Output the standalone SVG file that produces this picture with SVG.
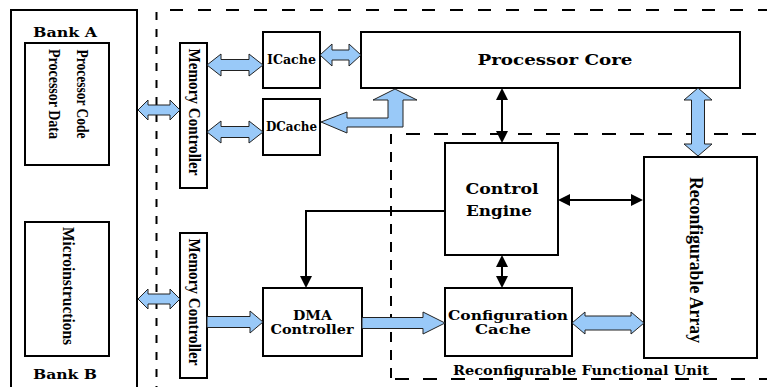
<svg xmlns="http://www.w3.org/2000/svg" width="767" height="387" viewBox="0 0 767 387">
<style>
.box{fill:#fff;stroke:#000;stroke-width:2}
.blk{fill:#99c9f8;stroke:#222;stroke-width:1}
.ln{fill:none;stroke:#000;stroke-width:2}
.dash{fill:none;stroke:#000;stroke-width:2}
.bt{font-family:"DejaVu Serif","Liberation Serif",serif;font-weight:bold;fill:#000;text-anchor:middle}
.rt{font-family:"Liberation Serif","Times New Roman",serif;font-weight:bold;fill:#000;text-anchor:middle}
</style>
<defs>
<marker id="ah" viewBox="0 0 12 12" refX="10" refY="6" markerWidth="12" markerHeight="12" markerUnits="userSpaceOnUse" orient="auto-start-reverse">
<path d="M0,0 L12,6 L0,12 Z" fill="#000"/>
</marker>
</defs>
<rect width="767" height="387" fill="#fff"/>

<g id="boundaries">
<path class="dash" d="M170,10 H767" stroke-dasharray="13 15"/>
<path class="dash" d="M156.5,12 V387" stroke-dasharray="8 9"/>
<path class="dash" d="M406,134 H767" stroke-dasharray="14 14"/>
<path class="dash" d="M391,134 V380" stroke-dasharray="10 8"/>
<path class="dash" d="M395,379 H767" stroke-dasharray="14 14"/>
<text class="bt" x="581" y="375" font-size="13" textLength="256" lengthAdjust="spacingAndGlyphs">Reconfigurable Functional Unit</text>
</g>

<g id="bank">
<path class="ln" d="M11,395 V10 H137 V395"/>
<text class="bt" x="65" y="37" font-size="13" textLength="64" lengthAdjust="spacingAndGlyphs">Bank A</text>
<text class="bt" x="65" y="379" font-size="13" textLength="64" lengthAdjust="spacingAndGlyphs">Bank B</text>
</g>

<g id="bankA-mem">
<rect class="box" x="25" y="43" width="84" height="122"/>
<g transform="translate(77,94) rotate(90)">
<text class="rt" x="0" y="0" font-size="16" textLength="89" lengthAdjust="spacingAndGlyphs">Processor Code</text>
<text class="rt" x="0" y="28" font-size="16" textLength="90" lengthAdjust="spacingAndGlyphs">Processor Data</text>
</g>
</g>

<g id="bankB-mem">
<rect class="box" x="25" y="222" width="84" height="134"/>
<text class="rt" font-size="17" transform="translate(63,286) rotate(90)" textLength="118" lengthAdjust="spacingAndGlyphs">Microinstructions</text>
</g>

<g id="memctrl1">
<rect class="box" x="180" y="43" width="27" height="145"/>
<text class="rt" font-size="17" transform="translate(188.5,112) rotate(90)" textLength="127" lengthAdjust="spacingAndGlyphs">Memory Controller</text>
</g>

<g id="memctrl2">
<rect class="box" x="180" y="233" width="27" height="145"/>
<text class="rt" font-size="17" transform="translate(188.5,302) rotate(90)" textLength="127" lengthAdjust="spacingAndGlyphs">Memory Controller</text>
</g>

<g id="icache">
<rect class="box" x="263" y="32" width="57" height="56"/>
<text class="bt" x="291.5" y="64" font-size="12" textLength="49" lengthAdjust="spacingAndGlyphs">ICache</text>
</g>

<g id="dcache">
<rect class="box" x="263" y="99" width="57" height="56"/>
<text class="bt" x="291.5" y="131" font-size="12" textLength="51" lengthAdjust="spacingAndGlyphs">DCache</text>
</g>

<g id="core">
<rect class="box" x="361" y="32" width="379" height="56"/>
<text class="bt" x="555" y="65" font-size="15" textLength="155" lengthAdjust="spacingAndGlyphs">Processor Core</text>
</g>

<g id="control">
<rect class="box" x="445" y="143" width="113" height="112"/>
<text class="bt" x="502" y="194" font-size="15" textLength="73" lengthAdjust="spacingAndGlyphs">Control</text>
<text class="bt" x="499" y="216" font-size="15" textLength="66" lengthAdjust="spacingAndGlyphs">Engine</text>
</g>

<g id="dma">
<rect class="box" x="263" y="288" width="99" height="68"/>
<text class="bt" x="312.5" y="320" font-size="12" textLength="39" lengthAdjust="spacingAndGlyphs">DMA</text>
<text class="bt" x="312" y="334" font-size="13" textLength="83" lengthAdjust="spacingAndGlyphs">Controller</text>
</g>

<g id="config">
<rect class="box" x="445" y="288" width="127" height="68"/>
<text class="bt" x="508" y="320" font-size="13" textLength="120" lengthAdjust="spacingAndGlyphs">Configuration</text>
<text class="bt" x="503" y="334" font-size="13" textLength="56" lengthAdjust="spacingAndGlyphs">Cache</text>
</g>

<g id="array">
<rect class="box" x="644" y="157" width="113" height="201"/>
<text class="rt" font-size="19" transform="translate(690,260) rotate(90)" textLength="166" lengthAdjust="spacingAndGlyphs">Reconfigurable Array</text>
</g>

<g id="connectors">
<polygon class="blk" points="138,110 148,100 148,105 170,105 170,100 180,110 170,120 170,115 148,115 148,120"/>
<polygon class="blk" points="138,299 148,289 148,294 170,294 170,289 180,299 170,309 170,304 148,304 148,309"/>
<polygon class="blk" points="207,65 221,54 221,59.5 249,59.5 249,54 263,65 249,76 249,70.5 221,70.5 221,76"/>
<polygon class="blk" points="207,132 221,121 221,126.5 249,126.5 249,121 263,132 249,143 249,137.5 221,137.5 221,143"/>
<polygon class="blk" points="320,55 332,44 332,50 349,50 349,44 361,55 349,66 349,60 332,60 332,66"/>
<polygon class="blk" points="207,316.5 250,316.5 250,311 263,322 250,333 250,327.5 207,327.5"/>
<polygon class="blk" points="362,317.5 423,317.5 423,312 445,323 423,334 423,328.5 362,328.5"/>
<polygon class="blk" points="572,323 585,312 585,316 631,316 631,312 644,323 631,334 631,330 585,330 585,334"/>
<polygon class="blk" points="698,88 712,100 704.5,100 704.5,144 712,144 698,156 684,144 691.5,144 691.5,100 684,100"/>
<polygon class="blk" points="321,122 347,112 347,118 388,118 388,100 373,100 395,89 417,100 403,100 403,127 347,127 347,133"/>
<line class="ln" x1="502" y1="90" x2="502" y2="141" marker-start="url(#ah)" marker-end="url(#ah)"/>
<line class="ln" x1="502" y1="257" x2="502" y2="286" marker-start="url(#ah)" marker-end="url(#ah)"/>
<line class="ln" x1="560" y1="200" x2="641" y2="200" marker-start="url(#ah)" marker-end="url(#ah)"/>
<polyline class="ln" points="445,211 306,211 306,286" marker-end="url(#ah)"/>
</g>
</svg>
